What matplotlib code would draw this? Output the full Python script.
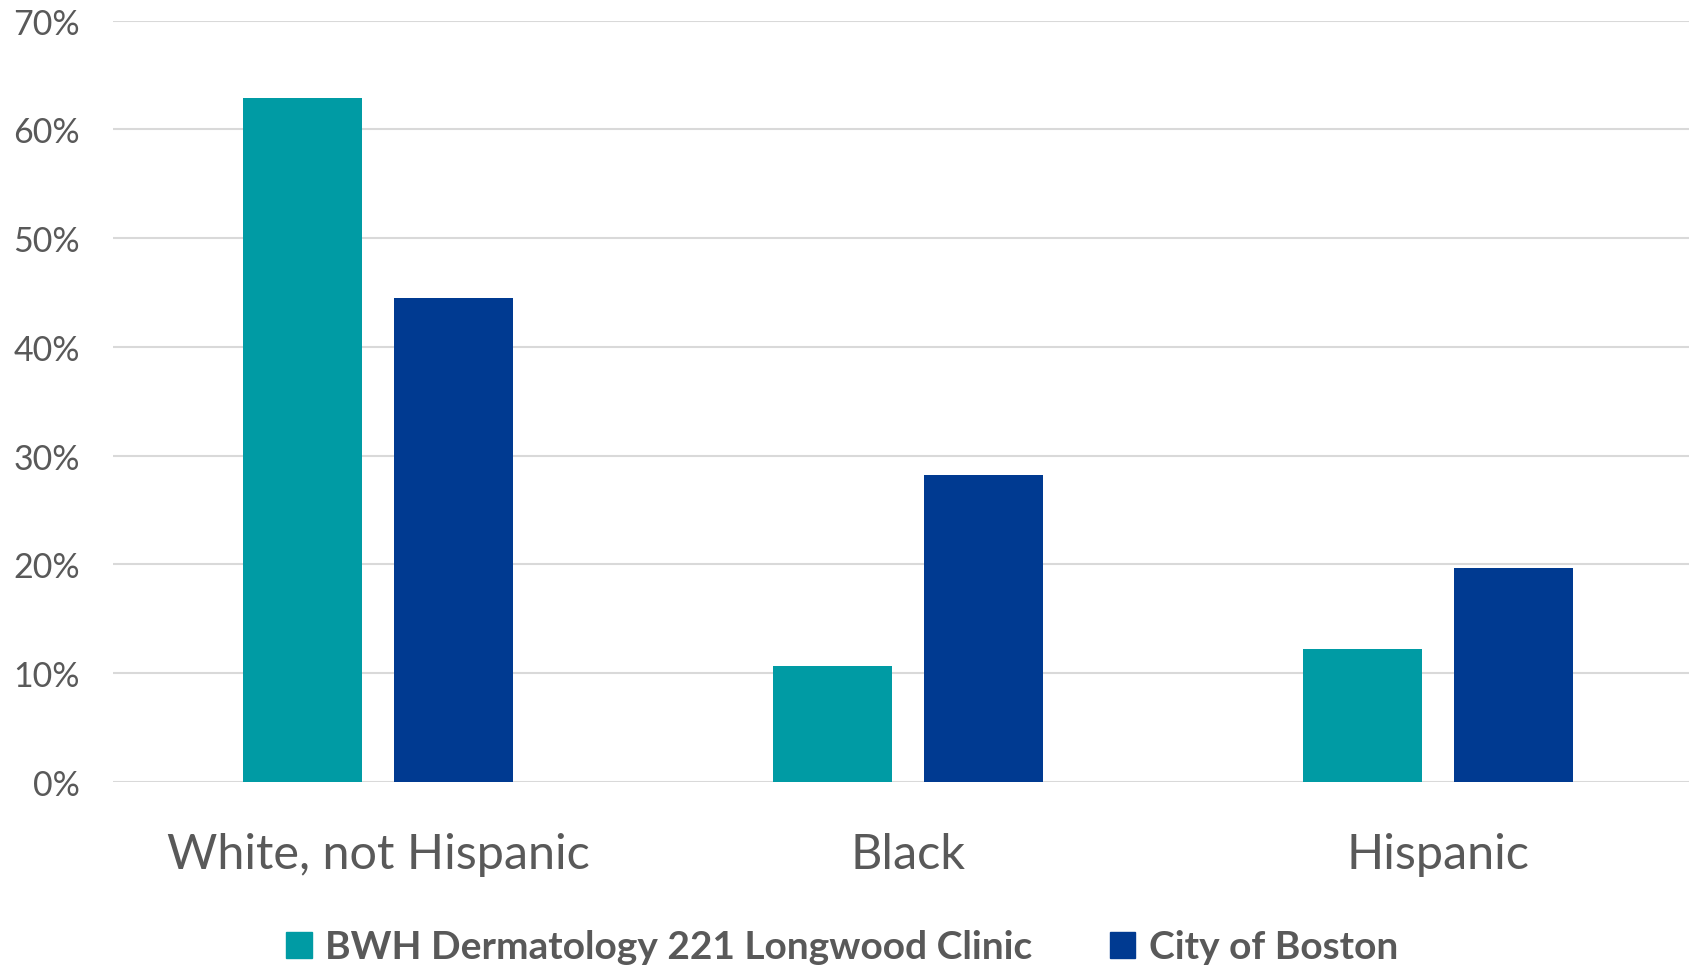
import matplotlib.pyplot as plt
import numpy as np
from matplotlib.patches import Patch
from matplotlib.ticker import PercentFormatter

# 数据
categories = ['White, not Hispanic', 'Black', 'Hispanic']
series_names = ['BWH Dermatology 221 Longwood Clinic', 'City of Boston']
bwh_values = [62.9, 10.7, 12.2]
boston_values = [44.5, 28.2, 19.7]
y_ticks = [0, 10, 20, 30, 40, 50, 60, 70]

teal = '#009BA4'
navy = '#003A91'
text_grey = '#595959'

plt.rcParams['font.family'] = ['Lato', 'DejaVu Sans']

fig = plt.figure(figsize=(16.9, 9.7), dpi=100)
ax = fig.add_axes([0.0671, 0.1928, 0.9404, 0.7850])

x = np.arange(len(categories))
w = 0.225
off = w / 2 + 0.03
ax.bar(x - off, bwh_values, width=w, color=teal, zorder=3)
ax.bar(x + off, boston_values, width=w, color=navy, zorder=3)

ax.set_xlim(-0.5, len(categories) - 0.5)
ax.set_ylim(0, 70)
ax.set_yticks(y_ticks)
ax.yaxis.set_major_formatter(PercentFormatter(decimals=0))
ax.grid(axis='y', color='#D9D9D9', linewidth=1.5, zorder=0)
ax.set_axisbelow(True)
for s in ax.spines.values():
    s.set_visible(False)

ax.set_xticks(x)
ax.set_xticklabels(categories)
ax.tick_params(axis='x', length=0, pad=36, labelsize=35, colors=text_grey)
ax.tick_params(axis='y', length=0, pad=24, labelsize=24.5, colors=text_grey)

# 图例
handles = [Patch(color=teal), Patch(color=navy)]
leg = fig.legend(handles, series_names, loc='center', bbox_to_anchor=(0.4984, 1 - 948 / 970),
                 ncol=2, frameon=False, handlelength=0.65, handleheight=0.65,
                 handletextpad=0.35, columnspacing=2.0,
                 prop={'size': 28, 'weight': 'bold'})
for t in leg.get_texts():
    t.set_color(text_grey)

plt.savefig('out.png', dpi=100)
plt.close()
